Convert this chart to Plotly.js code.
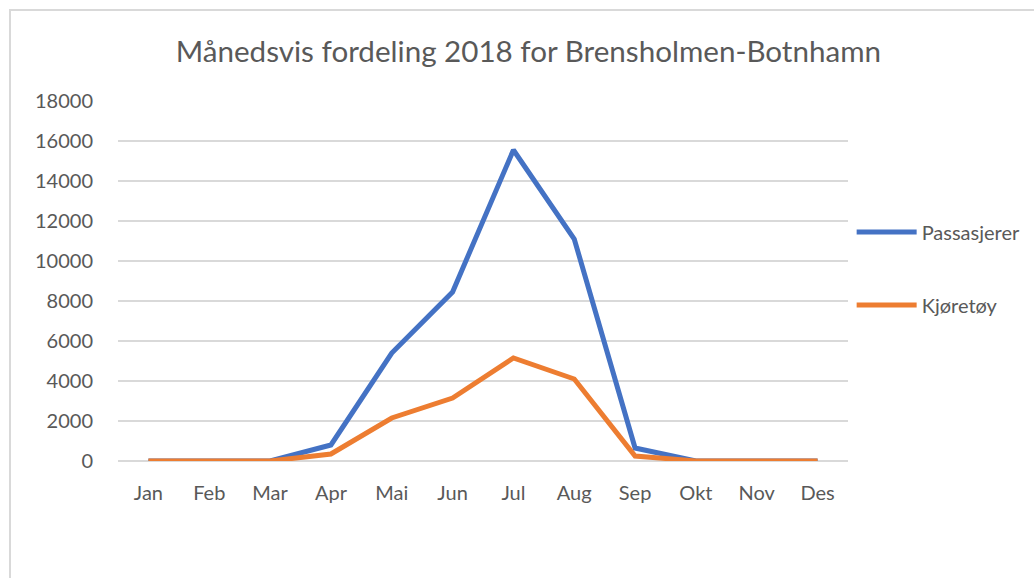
<!DOCTYPE html>
<html>
<head>
<meta charset="utf-8">
<script src="https://cdn.plot.ly/plotly-3.0.1.min.js"></script>
<style>
  html, body { margin: 0; padding: 0; background: #fff; }
  #chart { width: 1034px; height: 578px; position: relative; }
  #frame { position: absolute; left: 9px; top: 9px; width: 1100px; height: 700px;
           border-left: 2px solid #d9d9d9; border-top: 2px solid #d9d9d9; pointer-events: none; }
</style>
</head>
<body>
<div id="chart"></div>
<div id="frame"></div>
<script>
const months = ["Jan","Feb","Mar","Apr","Mai","Jun","Jul","Aug","Sep","Okt","Nov","Des"];
const passasjerer = [0, 0, 0, 800, 5400, 8450, 15550, 11100, 650, 0, 0, 0];
const kjoretoy = [0, 0, 0, 350, 2150, 3150, 5150, 4100, 250, 0, 0, 0];
const yTicks = [0, 2000, 4000, 6000, 8000, 10000, 12000, 14000, 16000, 18000];

const font = "Lato, 'Open Sans', sans-serif";
const textColor = "#595959";

const traces = [
  { x: months, y: passasjerer, type: "scatter", mode: "lines", name: "Passasjerer",
    legendgroup: "a", line: { color: "#4472c4", width: 5 } },
  { x: months, y: kjoretoy, type: "scatter", mode: "lines", name: "Kjøretøy",
    legendgroup: "b", line: { color: "#ed7d31", width: 5 } }
];

const layout = {
  width: 1034, height: 578,
  margin: { l: 118, r: 186, t: 101, b: 117, autoexpand: false },
  paper_bgcolor: "#fff", plot_bgcolor: "#fff",
  font: { family: font, color: textColor, size: 20 },
  title: { text: "Månedsvis fordeling 2018 for Brensholmen-Botnhamn",
           font: { family: font, size: 29.6, color: textColor },
           x: 0.511, xref: "container", xanchor: "center",
           y: 0.91, yref: "container", yanchor: "middle" },
  xaxis: { type: "category", range: [-0.5, 11.5], showgrid: false, zeroline: false,
           showline: false, ticks: "outside", ticklen: 14, tickcolor: "rgba(0,0,0,0)",
           tickfont: { size: 20, color: textColor }, fixedrange: true },
  yaxis: { range: [0, 18000], tickvals: yTicks, ticktext: yTicks.map(String),
           showgrid: true, gridcolor: "#d9d9d9", gridwidth: 1.5,
           zeroline: true, zerolinecolor: "#d9d9d9", zerolinewidth: 1.5,
           showline: false, ticks: "outside", ticklen: 20, tickcolor: "rgba(0,0,0,0)",
           tickfont: { size: 20, color: textColor }, fixedrange: true },
  showlegend: true,
  legend: { x: 1.005, xanchor: "left", y: 0.69, yanchor: "top",
            traceorder: "grouped", tracegroupgap: 44,
            font: { size: 20, color: textColor }, itemwidth: 60,
            bgcolor: "rgba(0,0,0,0)" }
};

Plotly.newPlot("chart", traces, layout, { displayModeBar: false, staticPlot: true });
</script>
</body>
</html>
